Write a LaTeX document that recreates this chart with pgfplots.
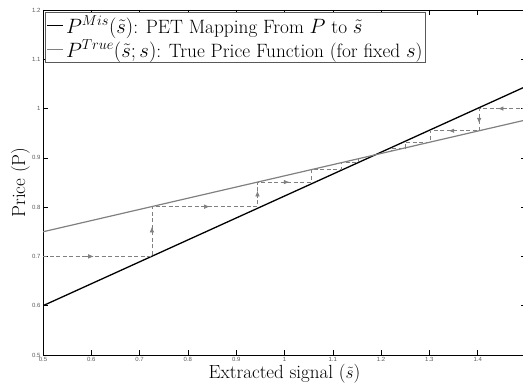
\documentclass[border=0pt]{standalone}
\usepackage{pgfplots}
\pgfplotsset{compat=1.18}
\usepackage{fontspec}
\newfontfamily\tickfont{Liberation Sans}
\usetikzlibrary{arrows.meta}
\definecolor{lgray}{RGB}{128,128,128}
\begin{document}
\begin{tikzpicture}
\begin{axis}[
  name=ax,
  scale only axis,
  width=483pt, height=345pt,
  xmin=0.5, xmax=1.5, ymin=0.5, ymax=1.2,
  xtick={0.5,0.6,0.7,0.8,0.9,1.0,1.1,1.2,1.3,1.4},
  xticklabels={0.5,0.6,0.7,0.8,0.9,1,1.1,1.2,1.3,1.4},
  ytick={0.5,0.6,0.7,0.8,0.9,1.0,1.1,1.2},
  yticklabels={0.5,0.6,0.7,0.8,0.9,1,1.1,1.2},
  tick align=inside,
  major tick length=5pt,
  tick style={black, line width=0.5pt},
  axis line style={line width=0.7pt},
  /pgf/number format/assume math mode=true,
  ticklabel style={font=\tickfont\fontsize{6}{7}\selectfont, text=black!65},
  xticklabel style={yshift=1pt},
  yticklabel style={xshift=1pt},
  xlabel={Extracted signal ($\tilde{s}$)},
  ylabel={Price (P)},
  label style={font=\fontsize{19}{22}\selectfont},
  xlabel style={at={(axis description cs:0.5,-0.069)}, anchor=base},
  ylabel style={at={(axis description cs:-0.047,0.5)}, anchor=center},
  legend cell align=left,
  legend style={at={(0.005,0.994)}, anchor=north west,
    font=\fontsize{19.3}{21}\selectfont, draw=black!65, line width=0.6pt,
    inner xsep=1pt, inner ysep=1.5pt, row sep=1pt},
  legend image code/.code={\draw[#1] (0pt,0pt) -- (16pt,0pt);},
]
\addplot[black, line width=1.3pt] coordinates {(0.5,0.6) (1.5,1.045)};
\addlegendentry{$P^{Mis}(\tilde{s})$: PET Mapping From $P$ to $\tilde{s}$}
\addplot[lgray, line width=1.2pt] coordinates {(0.5,0.75) (1.5,0.977)};
\addlegendentry{$P^{True}(\tilde{s};s)$: True Price Function (for fixed $s$)}
% cobweb from the left
\addplot[lgray, dashed, dash pattern=on 4pt off 2.5pt, line width=0.6pt, forget plot] coordinates {
 (0.5,0.7) (0.7255,0.7) (0.7255,0.801) (0.944,0.801) (0.944,0.8508)
 (1.055,0.8508) (1.055,0.876) (1.117,0.876) (1.117,0.890) (1.152,0.890) (1.152,0.898)};
% cobweb from the right
\addplot[lgray, dashed, dash pattern=on 4pt off 2.5pt, line width=0.6pt, forget plot] coordinates {
 (1.5,1.0) (1.403,1.0) (1.403,0.955) (1.301,0.955) (1.301,0.932)
 (1.251,0.932) (1.251,0.920) (1.222,0.920) (1.222,0.913)};
% arrow heads
\pgfplotsset{arr/.style={lgray, solid, line width=0.6pt, forget plot, -{Latex[length=5.5pt,width=4.5pt]}}}
\addplot[arr] coordinates {(0.59,0.7) (0.605,0.7)};
\addplot[arr] coordinates {(0.7255,0.745) (0.7255,0.76)};
\addplot[arr] coordinates {(0.83,0.801) (0.845,0.801)};
\addplot[arr] coordinates {(0.944,0.818) (0.944,0.833)};
\addplot[arr] coordinates {(0.995,0.8508) (1.01,0.8508)};
\addplot[arr] coordinates {(1.457,1.0) (1.442,1.0)};
\addplot[arr] coordinates {(1.403,0.985) (1.403,0.97)};
\addplot[arr] coordinates {(1.355,0.955) (1.34,0.955)};
\end{axis}
\pgfresetboundingbox
\path ([xshift=-43pt,yshift=-28pt]ax.south west) rectangle ([xshift=-3pt,yshift=10pt]ax.north east);
\end{tikzpicture}
\end{document}
